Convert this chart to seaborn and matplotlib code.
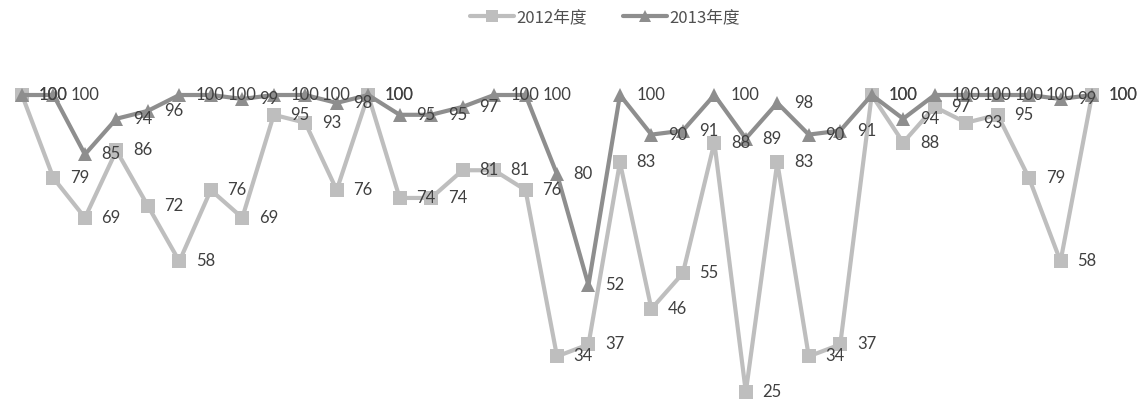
import matplotlib
matplotlib.use("Agg")
import matplotlib.pyplot as plt
from matplotlib.lines import Line2D
import seaborn as sns
import pandas as pd

# Datos
puntos = list(range(35))
serie_2012 = [100, 79, 69, 86, 72, 58, 76, 69, 95, 93, 76, 100, 74, 74, 81, 81, 76, 34,
              37, 83, 46, 55, 88, 25, 83, 34, 37, 100, 88, 97, 93, 95, 79, 58, 100]
serie_2013 = [100, 100, 85, 94, 96, 100, 100, 99, 100, 100, 98, 100, 95, 95, 97, 100, 100, 80,
              52, 100, 90, 91, 100, 89, 98, 90, 91, 100, 94, 100, 100, 100, 100, 99, 100]
nombres = ["2012年度", "2013年度"]

df = pd.DataFrame({
    "x": puntos * 2,
    "valor": serie_2012 + serie_2013,
    "serie": [nombres[0]] * len(puntos) + [nombres[1]] * len(puntos),
})

sns.set_theme(style="white")
plt.rcParams['font.family'] = ['Lato', 'Noto Sans CJK SC', 'DejaVu Sans']

colores = {nombres[0]: '#BEBEBE', nombres[1]: '#8E8E8E'}
marcadores = {nombres[0]: 's', nombres[1]: '^'}

fig = plt.figure(figsize=(11.39, 4.01), dpi=100)
ax = fig.add_axes([22 / 1139, (401 - 392) / 401, (1092 - 22) / 1139, (392 - 95) / 401])

sns.lineplot(data=df, x="x", y="valor", hue="serie", style="serie",
             palette=colores, markers=marcadores, dashes=False,
             linewidth=3, markersize=10, markeredgewidth=0, ax=ax, legend=False)

for linea in ax.lines:
    linea.set_clip_on(False)

ax.set_xlim(0, 34)
ax.set_ylim(25, 100)

# Etiquetas de valores (a la derecha de cada punto, como en el original)
for serie, valores in zip(nombres, [serie_2012, serie_2013]):
    for x, v in zip(puntos, valores):
        ax.annotate(str(v), (x, v), xytext=(12, 0), textcoords='offset points',
                    ha='left', va='center', fontsize=12, color='#404040',
                    annotation_clip=False)

ax.set_axis_off()

# Leyenda
handles = [Line2D([0], [0], color=colores[n], marker=marcadores[n], linewidth=3,
                  markersize=9, markeredgewidth=0) for n in nombres]
fig.legend(handles, nombres, loc='upper center', bbox_to_anchor=(605 / 1139, 1.015), ncol=2,
           frameon=False, handlelength=2.6, handletextpad=0.15, columnspacing=2.2,
           labelcolor='#505050',
           prop={'family': ['Noto Sans CJK SC', 'DejaVu Sans'], 'size': 12})

plt.savefig("out.png", dpi=100)
plt.close()
